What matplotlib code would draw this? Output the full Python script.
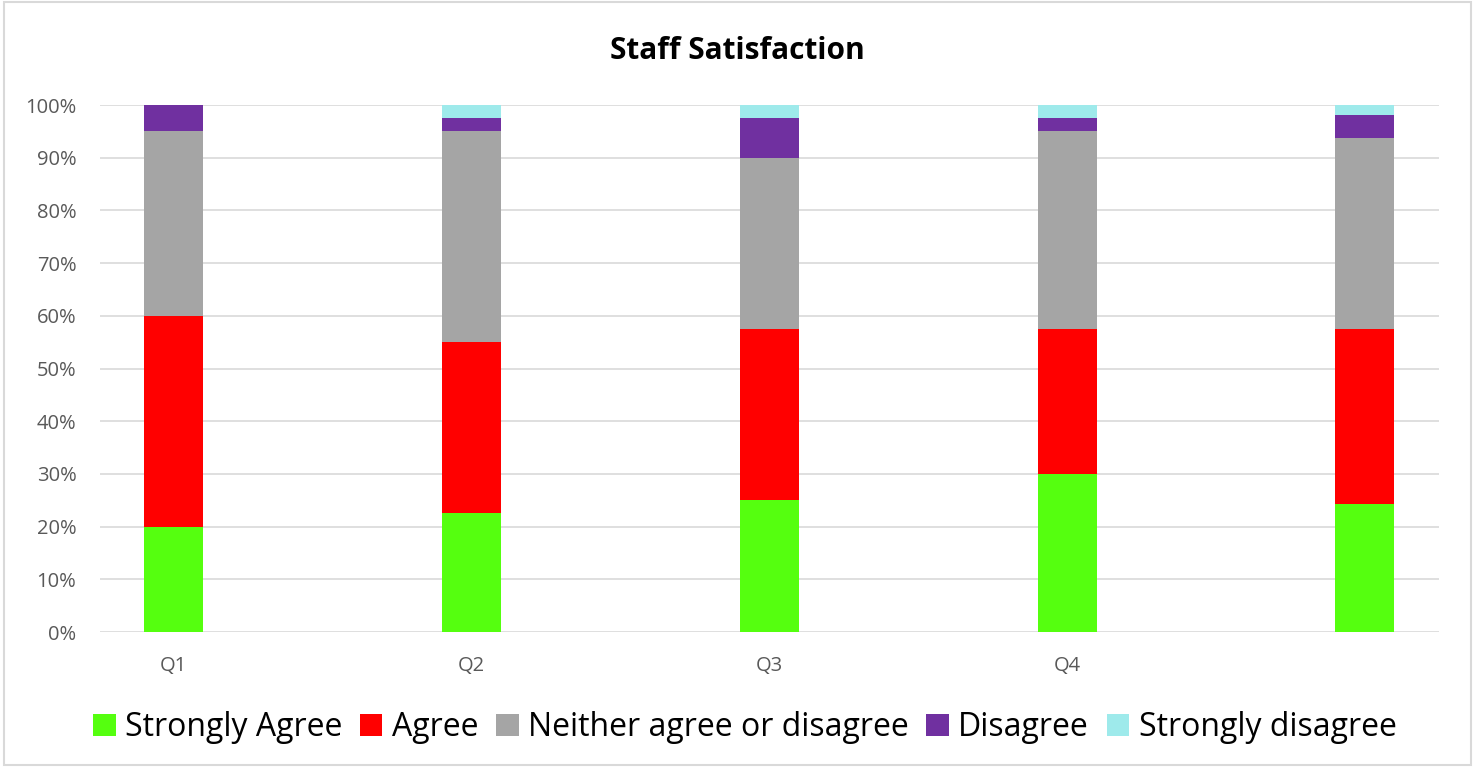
import numpy as np
import matplotlib.pyplot as plt
from matplotlib.patches import Rectangle

# survey results per quarter, last column is the yearly average (no label)
quarters = ['Q1', 'Q2', 'Q3', 'Q4', '']
strongly_agree = [20.0, 22.5, 25.0, 30.0, 24.375]
agree = [40.0, 32.5, 32.5, 27.5, 33.125]
neither = [35.0, 40.0, 32.5, 37.5, 36.25]
disagree = [5.0, 2.5, 7.5, 2.5, 4.375]
strongly_disagree = [0.0, 2.5, 2.5, 2.5, 1.875]

series = [
    ('Strongly Agree', strongly_agree, '#55FF0F'),
    ('Agree', agree, '#FF0000'),
    ('Neither agree or disagree', neither, '#A5A5A5'),
    ('Disagree', disagree, '#7030A0'),
    ('Strongly disagree', strongly_disagree, '#9EEAEB'),
]

plt.rcParams['font.family'] = ['Open Sans', 'DejaVu Sans']

fig = plt.figure(figsize=(14.75, 7.67), dpi=100)
ax = fig.add_axes([0.0678, 0.176, 0.908, 0.687])

x = np.arange(len(quarters))
bottom = np.zeros(len(quarters))
for name, vals, col in series:
    vals = np.array(vals)
    ax.bar(x, vals, width=0.198, bottom=bottom, color=col, label=name, zorder=3)
    bottom += vals

ax.set_xlim(-0.247, 4.25)
ax.set_ylim(0, 100)
ax.set_yticks(np.arange(0, 101, 10))
ax.set_yticklabels([f'{v}%' for v in range(0, 101, 10)])
ax.set_xticks(x)
ax.set_xticklabels(quarters)
ax.yaxis.grid(True, color='#D9D9D9', linewidth=1.2, zorder=0)
for s in ax.spines.values():
    s.set_visible(False)
ax.tick_params(axis='y', length=0, pad=17, labelsize=14.5, labelcolor='#595959')
ax.tick_params(axis='x', length=0, pad=17, labelsize=14.5, labelcolor='#595959')

fig.text(0.5, 0.934, 'Staff Satisfaction', ha='center', va='center',
         fontsize=21.5, fontweight='bold')

fig.legend(loc='center', bbox_to_anchor=(0.505, 0.051), ncol=5, frameon=False,
           fontsize=23, handlelength=0.7, handleheight=0.7, handletextpad=0.3,
           columnspacing=0.55)

fig.patches.append(Rectangle((0.003, 0.003), 0.994, 0.994, transform=fig.transFigure,
                             fill=False, edgecolor='#D9D9D9', linewidth=1.5))

fig.savefig('out.png', dpi=100)
